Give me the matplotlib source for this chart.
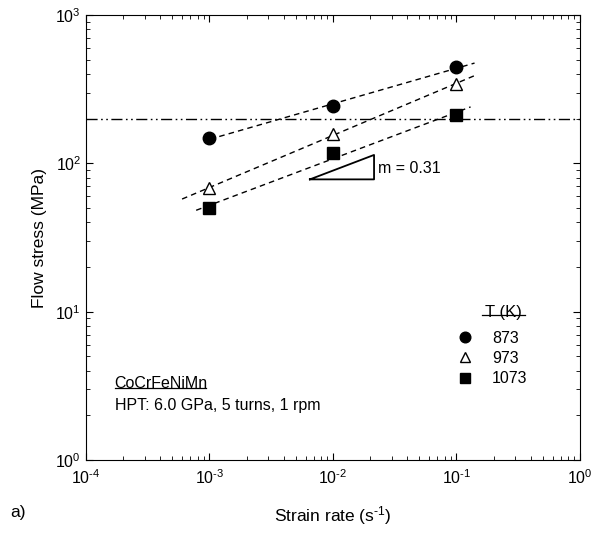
import numpy as np
import matplotlib.pyplot as plt
from matplotlib.lines import Line2D
from matplotlib.ticker import FuncFormatter

plt.rcParams['font.family'] = ['Liberation Sans', 'DejaVu Sans']
plt.rcParams['mathtext.fontset'] = 'custom'
plt.rcParams['mathtext.rm'] = 'Liberation Sans'
plt.rcParams['mathtext.default'] = 'regular'
plt.rcParams['axes.unicode_minus'] = False

# data
strain_rate = [1e-3, 1e-2, 1e-1]
stress_873 = [148, 243, 446]
stress_973 = [68, 158, 343]
stress_1073 = [50, 117, 212]
temps = ['873', '973', '1073']
markers = ['o', '^', 's']
facecolors = ['black', 'white', 'black']
fit_ranges = [(1.2e-3, 0.14), (6e-4, 0.14), (7.8e-4, 0.13)]
threshold = 200
slope_tri_x = [6.5e-3, 0.0215, 0.0215, 6.5e-3]
slope_tri_y = [78, 78, 114, 78]

fig = plt.figure(figsize=(5.95, 5.38), dpi=100)
ax = fig.add_axes([0.1445, 0.145, 0.8303, 0.827])

series = [stress_873, stress_973, stress_1073]
handles = []
for s, m, fc, rng, lab in zip(series, markers, facecolors, fit_ranges, temps):
	# power-law fit in log space, drawn as dashed line
	p = np.polyfit(np.log10(strain_rate), np.log10(s), 1)
	xx = np.logspace(np.log10(rng[0]), np.log10(rng[1]), 50)
	ax.plot(xx, 10 ** np.polyval(p, np.log10(xx)), color='black', lw=1.0, dashes=(4, 3))
	h, = ax.plot(strain_rate, s, linestyle='none', marker=m, ms=9 if m != 's' else 8,
		mfc=fc, mec='black', mew=1.0, label=lab)
	handles.append(h)

ax.axhline(threshold, color='black', lw=1.0, dashes=(8, 2.5, 1.2, 2.5, 1.2, 2.5))

ax.plot(slope_tri_x, slope_tri_y, color='black', lw=1.3)
ax.text(0.0232, 93, 'm = 0.31', fontsize=11.5, va='center', ha='left')

ax.set_xscale('log')
ax.set_yscale('log')
ax.set_xlim(1e-4, 1)
ax.set_ylim(1, 1000)

# plain hyphen in the exponents, like the original
pow10 = FuncFormatter(lambda v, pos: '10$^{\\text{%d}}$' % round(np.log10(v)))
ax.xaxis.set_major_formatter(pow10)
ax.yaxis.set_major_formatter(pow10)
ax.tick_params(which='both', direction='in', top=True, right=True, labelsize=11.5)
ax.tick_params(which='major', length=5)
ax.tick_params(which='minor', length=3)
ax.tick_params(axis='x', pad=6)

ax.set_xlabel('Strain rate (s$^{\\text{-1}}$)', fontsize=12.5, labelpad=12)
ax.set_ylabel('Flow stress (MPa)', fontsize=12.5, labelpad=6)

ax.legend(handles=handles, loc='upper left', bbox_to_anchor=(0.731, 0.305),
	frameon=False, fontsize=11.5, handlelength=1.5, handletextpad=0.9,
	labelspacing=0.33, borderaxespad=0, markerscale=0.85)
ax.text(0.845, 0.331, 'T (K)', transform=ax.transAxes, fontsize=12, ha='center', va='center')
ax.add_line(Line2D([0.802, 0.889], [0.326, 0.326], transform=ax.transAxes, color='black', lw=0.9))

ax.text(0.058, 0.172, 'CoCrFeNiMn', transform=ax.transAxes, fontsize=11.5, va='center')
ax.text(0.058, 0.122, 'HPT: 6.0 GPa, 5 turns, 1 rpm', transform=ax.transAxes, fontsize=11.5, va='center')
ax.add_line(Line2D([0.058, 0.243], [0.162, 0.162], transform=ax.transAxes, color='black', lw=0.9))

fig.text(10 / 595, 1 - 512 / 538, 'a)', fontsize=12.5, va='center')

fig.savefig('out.png', dpi=100)
